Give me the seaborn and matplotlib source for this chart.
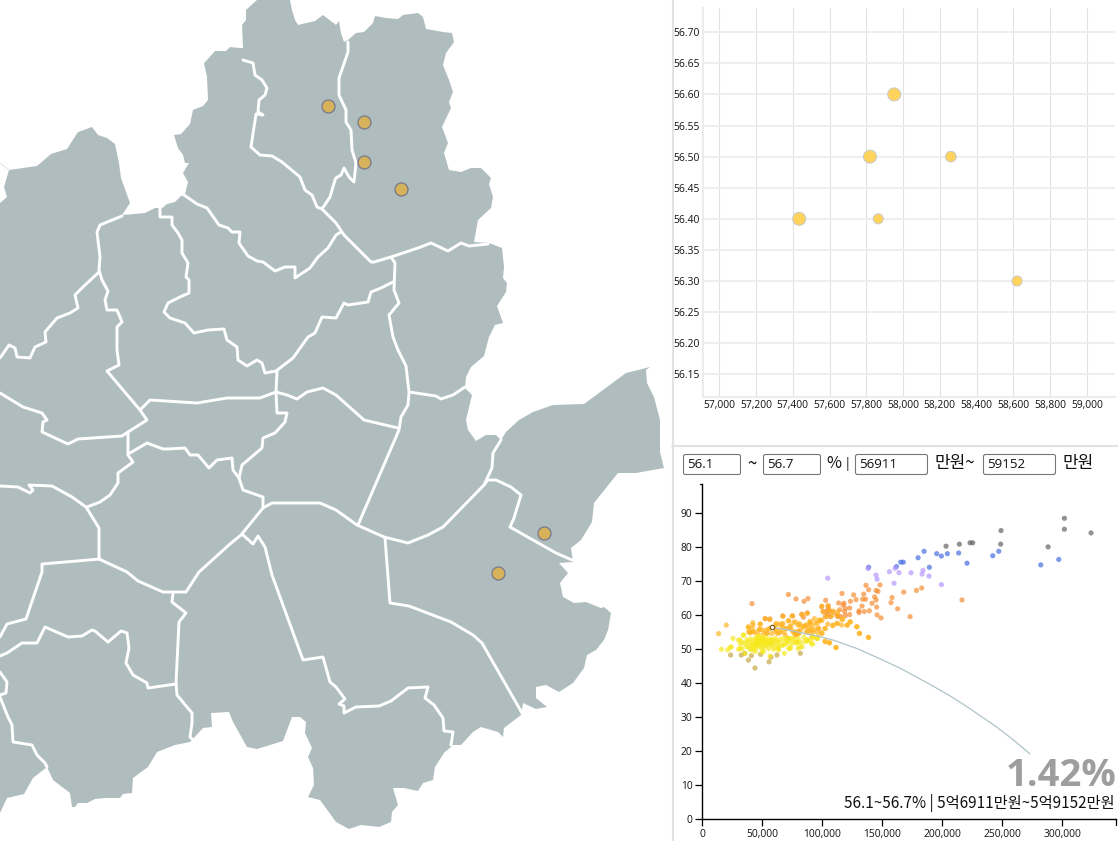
#!/usr/bin/env python3
"""
Region map with a selected price/ratio window, plus two linked scatter panels
"""
import matplotlib
matplotlib.use('Agg')
import matplotlib.pyplot as plt
from matplotlib.patches import FancyBboxPatch
import pandas as pd
import seaborn as sns

# map outline (screen pixels)
land_outline = [
    (257,0),(246,10),(246,20),(242,25),(243,48),(240,48),(230,47),(226,51),(215,51),(207,60),(204,63),(207,77),(208,100),
    (203,106),(193,110),(190,124),(181,134),(174,135),(178,148),(183,155),(185,163),(189,163),(183,173),(188,182),(185,194),
    (180,197),(175,202),(167,204),(160,210),(158,208),(155,208),(145,213),(135,214),(122,215),(130,203),(121,178),(119,163),
    (115,144),(107,138),(98,135),(92,127),(78,132),(67,149),(51,154),(37,166),(9,170),(4,187),(7,197),(0,203),
    (0,813),(7,798),(24,794),(33,778),(47,767),(53,780),(70,793),(72,807),(75,807),(78,803),(87,803),(95,799),(105,798),
    (120,798),(123,794),(132,793),(133,778),(148,767),(157,752),(175,745),(190,742),(203,728),(212,727),(211,713),(229,712),
    (233,722),(247,747),(257,749),(267,746),(283,741),(292,717),(300,717),(306,722),(305,733),(312,748),(308,757),(313,768),
    (314,785),(308,797),(320,800),(336,822),(349,829),(361,825),(379,827),(391,822),(392,812),(398,805),(393,788),(404,788),
    (418,791),(423,783),(433,780),(435,767),(444,753),(453,745),(461,745),(473,732),(481,727),(498,732),(503,737),(504,728),
    (521,715),(523,703),(536,709),(547,707),(536,698),(536,687),(546,685),(559,692),(573,683),(584,668),(587,655),(596,650),
    (604,640),(608,630),(611,613),(604,607),(601,608),(586,602),(574,603),(563,597),(560,583),(568,573),(559,563),(573,562),
    (571,548),(581,540),(592,522),(594,503),(618,473),(636,473),(664,468),(660,452),(660,420),(654,397),(647,383),(646,370),
    (650,367),(626,373),(584,404),(553,405),(533,412),(519,420),(506,432),(501,440),(496,435),(486,435),(476,441),(468,430),
    (466,420),(472,395),(465,388),(466,377),(471,367),(484,356),(489,337),(495,325),(503,323),(497,306),(506,292),(507,283),
    (503,278),(504,267),(502,248),(489,243),(474,242),(478,220),(491,208),(493,197),(489,184),(491,178),(481,168),(471,168),
    (461,172),(449,170),(444,153),(448,143),(442,127),(451,108),(449,102),(453,92),(449,80),(443,65),(446,53),(454,42),
    (452,33),(443,32),(426,29),(423,17),(418,13),(403,15),(398,19),(386,18),(375,16),(373,23),(364,32),(356,33),(348,40),
    (344,42),(341,33),(339,21),(336,25),(323,15),(315,21),(298,25),(295,20),(292,10),(290,0),
]

# district borders, same pixel space
borders = [
    [(243,60),(253,63),(255,75),(262,80),(267,88),(265,95),(259,100),(258,112),(263,115),(256,114),(251,147),(260,155),(272,156),
     (282,162),(300,177),(305,190),(312,195),(317,207),(322,209),(336,223),(344,235),(371,262),(374,262),(391,257),(418,248),
     (431,243),(448,251),(461,243),(469,246),(488,244)],
    [(348,42),(348,52),(339,78),(339,95),(346,110),(346,122),(351,130),(352,150),(356,163),(354,182),(349,177),(344,168),(341,175),
     (336,178),(335,180),(330,197),(322,209)],
    [(341,232),(336,235),(328,248),(318,257),(310,268),(295,278),(295,267),(285,267),(275,271),(263,262),(257,261),(248,256),
     (239,243),(240,232),(232,232),(228,228),(219,225),(207,208),(197,204),(184,195)],
    [(160,210),(160,217),(172,217),(172,225),(178,233),(182,240),(182,253),(188,263),(186,277),(189,280),(189,293),(180,297),
     (168,303),(164,312),(170,318),(185,323),(194,333),(208,330),(224,329),(227,340),(237,347),(238,360),(247,366),(257,360),
     (262,363),(265,373),(276,371),(293,358),(308,337),(315,333),(322,317),(336,318),(344,303),(348,305),(368,302),(371,292),
     (381,288),(393,282)],
    [(391,257),(395,263),(394,290),(399,303),(389,315),(393,337),(398,350),(406,366),(409,392),(436,396),(441,399),(453,395),(465,387)],
    [(409,393),(408,405),(401,417),(399,430),(358,525)],
    [(122,216),(100,225),(97,232),(100,257),(99,270),(102,280),(108,291),(105,300),(107,310),(117,310),(122,322),(117,327),
     (117,350),(119,365),(107,371),(140,410),(147,420),(128,432),(122,436),(78,439),(68,444),(42,432),(43,422),(47,420),(42,413),
     (23,407),(0,393)],
    [(99,272),(83,287),(75,295),(78,308),(70,313),(57,318),(45,332),(46,342),(35,347),(30,358),(17,357),(15,348),(9,345),(0,358)],
    [(140,410),(150,400),(197,403),(227,398),(260,398),(276,392),(277,371)],
    [(276,392),(277,413),(287,413),(285,422),(275,433),(263,438),(262,448),(242,465),(239,478)],
    [(276,392),(287,395),(297,399),(307,392),(323,388),(336,395),(364,420),(398,428)],
    [(128,432),(128,455),(133,462),(118,473),(118,483),(110,495),(100,502),(87,507)],
    [(130,453),(147,443),(163,449),(168,449),(185,448),(190,455),(198,455),(209,468),(217,460),(232,458),(233,470),(239,478),
     (243,490),(263,497),(263,507)],
    [(263,508),(241,535),(230,544),(199,572),(186,592),(163,592),(138,581),(127,572),(99,559),(99,528),(86,507),(72,497),(52,486),
     (29,485),(33,490),(30,493),(18,487),(0,486)],
    [(263,508),(272,503),(320,503),(336,510),(357,525),(384,537),(408,543),(428,535),(443,527),(484,485),(488,480),(496,480),
     (511,487),(521,495),(514,518),(510,527),(556,553),(572,560)],
    [(501,440),(493,453),(492,468),(484,485)],
    [(385,538),(390,603),(409,606),(451,622),(473,635),(482,643),(522,713)],
    [(243,535),(253,544),(258,536),(265,547),(272,575),(303,660),(323,657),(330,682),(336,687),(345,699),(339,704),(344,706),
     (344,713),(356,707),(379,706),(391,701),(408,688),(428,687),(425,698),(434,705),(443,718),(444,731),(453,732),(451,745)],
    [(173,593),(172,602),(186,613),(179,622),(176,683),(177,695),(192,713),(192,723),(190,737),(193,740)],
    [(176,684),(148,688),(147,683),(133,675),(126,663),(129,648),(127,633),(121,631),(108,642),(95,631),(92,630),(82,636),(68,637),
     (45,627),(37,643),(22,643),(7,653),(0,656)],
    [(100,559),(42,564),(42,572),(26,619),(7,624),(0,637)],
    [(0,697),(8,717),(12,725),(13,742),(32,745),(37,755),(45,763),(47,767)],
    [(0,672),(7,682),(6,693),(0,695)],
]

# selected apartments on the map
map_sites_x = [328, 364.3, 364.3, 400.7, 544.3, 498]
map_sites_y = [106, 121.7, 161.7, 189.3, 532.7, 572.7]

# zoomed-in panel: price (10k won) vs ratio (%)
top_price = [57952, 57820, 58260, 57435, 57865, 58620]
top_ratio = [56.6, 56.5, 56.5, 56.4, 56.4, 56.3]
top_units = [3, 3, 2, 3, 1, 1]
top_xticks = [57000, 57200, 57400, 57600, 57800, 58000, 58200, 58400, 58600, 58800, 59000]
top_yticks = [56.15, 56.20, 56.25, 56.30, 56.35, 56.40, 56.45, 56.50, 56.55, 56.60, 56.65, 56.70]

# overview panel, x in thousands of the price unit, y in %
gray_x = [203.1, 214.2, 223.1, 225.3, 248.9, 248.6, 288.1, 301.7, 301.7, 323.9]
gray_y = [80.3, 80.9, 81.3, 81.3, 84.9, 80.9, 80.1, 88.5, 85.3, 84.2]
blue_x = [138.6, 161.7, 165.3, 167.5, 179.8, 184.8, 189.2, 195.3, 199.2, 204.2, 213.6, 220.6, 242, 247, 282, 297]
blue_y = [74.1, 74.3, 75.6, 75.6, 76.9, 78.8, 74.1, 78.1, 77.4, 78.1, 78.3, 75.3, 77.5, 78.8, 74.8, 76.4]
purple_x = [104.5, 138.1, 144.75, 145.6, 155.9, 160.6, 163.9, 159.75, 173.9, 183.1, 183.9, 188.9, 199.2]
purple_y = [70.9, 73.7, 71.8, 70.6, 72.8, 73.8, 72.5, 69.4, 72.5, 72.1, 73.2, 71.5, 69]
orange_x = [136.4, 138.6, 148.1, 144.8, 146.4, 71.7, 78.1, 84.8, 88.1, 102.8, 116.4, 126.1, 134.5, 136.1, 128.1, 133.6,
            143.6, 144.8, 158.1, 157.25, 167.8, 178.4, 182.8, 216.4, 162.8, 173.1, 141.4, 133.1, 145.3, 130.6, 135, 139.2,
            130.6, 145.6, 148.9, 113.6, 118.1, 117.25, 123.4, 114.5, 119.2, 122.8, 118.6, 122.8, 119.2, 115.3, 112.2, 112.8,
            99.5, 104.75, 105, 100.6, 103.4, 105.9, 108.6, 104.5, 102.5, 106.7, 41.4,
            52.3, 56.4, 67, 75.3, 82.8, 87.5, 84.2]
orange_y = [68.8, 67.5, 68.9, 67.3, 67, 66.1, 64.8, 64.1, 64.9, 64.4, 66.4, 66, 66.2, 64.7, 64.6, 64.7,
            65.4, 64.5, 65.2, 63.7, 66.8, 67.3, 68, 64.5, 61.9, 59.6, 63.5, 62.7, 62.4, 61.3, 61.1, 61.3,
            60.8, 60.1, 59.2, 63.6, 63.5, 63, 64.1, 61.6, 62, 62.1, 61.1, 60.2, 59.9, 59.6, 60.1, 59.6,
            62.5, 62.8, 62.1, 61.1, 61.1, 61.4, 60.9, 60.3, 59.6, 59.6, 63.4,
            59, 58.9, 59.8, 59.8, 60.3, 60.7, 59.4]
gold_x = [13.6, 20, 52.5, 56.1, 67.25, 74.75, 83.1, 87.25, 38.4, 42.25, 48.4, 38.6, 40, 43.6, 47.5, 52.5, 53.9, 55.9, 59.5,
          64.2, 67.25, 72, 76.1, 80.9, 85.9, 90, 93.4, 97, 99.75, 102.5, 104.5, 108.9, 112.8, 116.4, 120.6, 123.4, 128.9,
          131.1, 138.6, 111.4, 102.5, 106.1, 99.75, 97, 92.8, 88.6, 84.5, 79.75, 78.1, 80.3, 74.75, 70.6, 66.4, 61.4, 58,
          63.1, 69.2, 72, 77.5, 81.7, 91.4, 95.6, 87.8, 49.2, 46.4, 51.1, 41.4, 61.4, 73.4, 79, 80.5, 76, 78.5, 68, 65, 86.5,
          38.4, 39.8, 42.5, 42, 48.1, 47.5, 53.7, 55, 61.4, 66.2, 61.4, 64.8, 69, 71.7, 73.1, 77.3, 77.3, 80, 81.4, 84.2, 87,
          89.8, 91.2, 93.9, 95.9, 89.8, 96.7, 99.5, 105, 100.8, 105.8, 109.2, 103.6, 107.8, 112.8, 112.8, 117, 98.1, 93.9,
          89.7, 91.1, 96.7, 99.5, 98.6, 102.2, 108.6, 112, 116.1, 123.1, 120.8, 128.6, 130.8, 138.3, 102.2, 105.8, 111.4]
gold_y = [54.6, 57.1, 59, 58.7, 59.7, 59.8, 60.2, 60.5, 56.6, 57.1, 57.4, 55.1, 54.8, 55.1, 55.8, 55.6, 54.6, 56.1, 56.4,
          57.4, 57.6, 58.3, 57.8, 57.6, 57.1, 57.4, 59, 58.5, 58.5, 56.1, 57.4, 57.1, 57.6, 58.7, 57.1, 58, 56.6,
          54.6, 53.5, 50.5, 52.2, 51.9, 54.6, 56.1, 55.1, 56.1, 56.6, 57.1, 55.1, 54.6, 55.6, 56.1, 56.6, 55.6, 54.6,
          54.6, 54.1, 53.2, 54.1, 55.6, 53.7, 53.2, 55.4, 55.8, 54.4, 54.6, 56.1, 57.1, 56.8, 54.8, 55.3, 54.9, 54.2, 55, 55.5, 55,
          56.4, 55.1, 55.1, 57.8, 57.4, 55.8, 54.7, 55.8, 57.6, 57.3, 55.1, 54.9, 56.1, 58.4, 56.6, 58.1, 54.9, 54.7, 57.1, 56.6, 57.1,
          55.1, 56.6, 55.8, 57.6, 58.1, 54.7, 62.7, 62.7, 61, 61.3, 61.2, 59.6, 59.8, 60, 61, 58.9, 58.4, 57.6,
          58.1, 55.6, 56.1, 54.9, 58.6, 56.1, 56.9, 57.6, 57.1, 58.1, 57.1, 56.6, 54.7, 53.5, 52.4, 51.9, 50.5]
yellow_x = [15.9, 21.1, 25.6, 24.2, 30.3, 31.7, 34.5, 37.25, 30.3, 33.1, 41.4, 44.2, 45.6, 47.5, 49.75, 46.4, 50.3, 52.5, 55.3,
            58, 60.9, 63.6, 67.8, 70.6, 74.75, 78.9, 84.5, 87.25, 91.4, 95.6, 59.5, 63.6, 68.4, 73.4, 79.75, 83.1, 90.9,
            49.75, 44.2, 63.6, 55.3, 38.6, 42.8, 44.75, 47.5, 52.5, 58, 62.25, 70.6, 74.75, 78.1, 49.2, 41.4, 37.25, 48.4,
            45.6, 51.1, 48.4, 46.4, 44.2, 49.75, 53.9, 66.4, 72, 46, 47, 48, 49, 50, 52, 54, 56, 57, 59, 61, 65, 69, 72, 76,
            80, 82, 86, 89, 43, 45, 47, 51, 53, 55, 39, 36, 34, 40, 42,
            23.1, 31.4, 34.2, 35.6, 31.4, 39.8, 42.5, 45.3, 46.7, 49.5, 50.9, 53.7, 57.8, 60.6, 63.4, 67.5, 71.7, 73.1, 78.7,
            81.4, 87, 92.5, 92, 95.9, 56.4]
yellow_y = [50, 49.8, 53.2, 50.7, 52.7, 51.7, 54.1, 52.7, 50, 50.2, 49.8, 50.2, 52.2, 52.9, 52.2, 51.2, 51.7, 52.7, 52.2,
            52.7, 53.2, 52.2, 53.2, 52.7, 53.2, 52.2, 53.5, 52.7, 53.2, 53.2, 50, 50.7, 48.8, 50.5, 50.2, 50.7, 51.7,
            49.3, 49.3, 49.8, 50.2, 52.2, 52.7, 53.5, 53.9, 53.5, 51.2, 51.7, 51.7, 51.7, 51.9, 50.5, 51.7, 50.7, 52.7,
            52.9, 52.9, 51.9, 52.2, 51.7, 53.2, 51.7, 51.2, 50.2, 52, 51.5, 53, 52.5, 53, 52, 52.5, 53, 51.5, 52, 52.5, 52.8, 52, 52.5, 52.8,
            53, 52, 52.2, 52.5, 51, 51.3, 50.8, 50.5, 51, 51.5, 51, 51.5, 52, 53, 51.2,
            50.5, 52.7, 54.2, 48.8, 50.2, 50, 50.2, 52.2, 53.7, 52.7, 49.3, 51.7, 52.7, 50.7, 50.2, 51.2, 53.2, 50.2, 51.9,
            50.7, 52.7, 53.7, 51.5, 53.2, 48]
tan_x = [23.6, 32.5, 35.3, 40.9, 38.4, 43.9, 48.6, 55.6, 57.25, 62.25, 81.7]
tan_y = [48.3, 48.3, 48.8, 48.1, 46.8, 44.5, 48.5, 46.3, 47.7, 48.3, 48.8]
picked_x = [58.1]
picked_y = [56.4]
curve_x = [58, 66, 75, 84, 97, 109, 129, 148, 165, 176, 190, 204, 218, 231, 245, 259, 273]
curve_y = [56.4, 56.0, 55.4, 54.7, 53.8, 52.7, 50.2, 47.2, 44.4, 42.3, 39.6, 36.8, 33.7, 30.6, 27.2, 23.4, 19.2]
bottom_xticks = [0, 50, 100, 150, 200, 250, 300]
bottom_yticks = [0, 10, 20, 30, 40, 50, 60, 70, 80, 90]

filter_ratio_low = '56.1'
filter_ratio_high = '56.7'
filter_price_low = '56911'
filter_price_high = '59152'
share_label = '1.42%'
range_label = '56.1~56.7% | 5억6911만원~5억9152만원'

group_colors = {
    'gray': '#5f5f5f', 'blue': '#4169e1', 'purple': '#b594ff', 'orange': '#f58a2e',
    'gold': '#ffb31f', 'tan': '#c4a43c', 'yellow': '#f7e81e',
}
W, H = 1118, 841
UI_FONT = ['Noto Sans CJK KR', 'DejaVu Sans']

sns.set_theme(style='white')
plt.rcParams['font.family'] = ['Open Sans', 'Noto Sans CJK KR', 'DejaVu Sans']


def add_axes_px(fig, left, top, right, bottom):
    return fig.add_axes([left / W, 1 - bottom / H, (right - left) / W, (bottom - top) / H])


def text_px(fig, x, y, s, **kw):
    kw.setdefault('va', 'center')
    kw.setdefault('family', UI_FONT)
    fig.text(x / W, 1 - y / H, s, **kw)


def draw_map(ax):
    ax.set_xlim(0, W)
    ax.set_ylim(H, 0)
    ax.axis('off')
    ax.fill(*zip(*land_outline), color='#b0bdbe', lw=0, zorder=1)
    for line in borders:
        ax.plot(*zip(*line), color='white', lw=2.1, solid_joinstyle='round', zorder=2)
    ax.plot([0, 9], [163, 170], color='#e3e6e6', lw=0.7, zorder=2)
    sites = pd.DataFrame({'x': map_sites_x, 'y': map_sites_y})
    sns.scatterplot(data=sites, x='x', y='y', ax=ax, s=88, color='#d6b35a', edgecolor='#77778a',
                    linewidth=0.9, zorder=3, legend=False)
    ax.set_xlabel('')
    ax.set_ylabel('')
    # panel dividers
    ax.plot([672.5, 672.5], [0, H], color='#e2e2e2', lw=1.5, zorder=4)
    ax.plot([672, W], [445.5, 445.5], color='#e2e2e2', lw=1.5, zorder=4)


def draw_top(fig):
    ax = add_axes_px(fig, 702.7, 8, 1115, 397.3)
    df = pd.DataFrame({'price': top_price, 'ratio': top_ratio, 'units': top_units})
    sns.scatterplot(data=df, x='price', y='ratio', size='units', sizes={1: 52, 2: 58, 3: 88}, ax=ax,
                    color='#ffd35c', edgecolor='#c9c9c9', linewidth=0.7, legend=False, zorder=3)
    ax.set_xlim(56910, 59153)
    ax.set_ylim(56.113, 56.739)
    ax.set_xticks(top_xticks)
    ax.set_xticklabels([f'{v:,}' for v in top_xticks])
    ax.set_yticks(top_yticks)
    ax.set_yticklabels([f'{v:.2f}' for v in top_yticks])
    ax.tick_params(length=0, labelsize=7.4, colors='#111111', pad=2)
    ax.grid(axis='x', color='#e2e2e2', lw=0.8)
    ax.grid(axis='y', color='#eeeeee', lw=1.4)
    ax.set_axisbelow(True)
    ax.set_xlabel('')
    ax.set_ylabel('')
    sns.despine(ax=ax, top=True, right=True)
    for side in ['left', 'bottom']:
        ax.spines[side].set_color('#ececec')
        ax.spines[side].set_linewidth(1.5)


def draw_filters(fig):
    ax = fig.axes[0]
    boxes = [(683.5, 740.5, filter_ratio_low), (763.5, 820.5, filter_ratio_high),
             (855.5, 927.5, filter_price_low), (983.5, 1055.5, filter_price_high)]
    for left, right, value in boxes:
        ax.add_patch(FancyBboxPatch((left + 1, 455.5), right - left - 2, 18, boxstyle='round,pad=1,rounding_size=2',
                                    fc='white', ec='#767676', lw=0.8, zorder=5))
        text_px(fig, left + 3.5, 464.5, value, fontsize=9.6, color='#111111', family=['Open Sans'])
    size = 12.2
    text_px(fig, 752, 464, '~', fontsize=size, ha='center', color='#111111')
    text_px(fig, 833.5, 463.5, '%', fontsize=size - 0.5, ha='center', color='#111111')
    text_px(fig, 847.5, 464, '|', fontsize=size - 3, ha='center', color='#111111')
    text_px(fig, 934.5, 463, '만원~', fontsize=size, color='#111111')
    text_px(fig, 1062.5, 463, '만원', fontsize=size, color='#111111')


def draw_bottom(fig):
    ax = add_axes_px(fig, 702.3, 484.3, 1116, 819.3)
    ax.patch.set_alpha(0)
    frames = []
    for name, xs, ys in [('gray', gray_x, gray_y), ('blue', blue_x, blue_y), ('purple', purple_x, purple_y),
                         ('orange', orange_x, orange_y), ('gold', gold_x, gold_y), ('tan', tan_x, tan_y),
                         ('yellow', yellow_x, yellow_y)]:
        frames.append(pd.DataFrame({'price': xs, 'ratio': ys, 'group': name}))
    points = pd.concat(frames, ignore_index=True)
    sns.scatterplot(data=points, x='price', y='ratio', hue='group', palette=group_colors, s=14, linewidth=0,
                    alpha=0.68, ax=ax, legend=False, clip_on=False, zorder=3)
    sns.lineplot(x=curve_x, y=curve_y, sort=False, color='#aec4c8', lw=0.9, ax=ax, zorder=4, errorbar=None)
    sns.scatterplot(x=picked_x, y=picked_y, s=10, color='white', edgecolor='#8a5a10', linewidth=0.9, ax=ax,
                    legend=False, zorder=5)
    ax.set_xlim(0, 344.7)
    ax.set_ylim(0, 98.5)
    ax.set_xticks(bottom_xticks)
    ax.set_xticklabels([f'{v * 1000:,}' for v in bottom_xticks])
    ax.set_yticks(bottom_yticks)
    ax.set_yticklabels([str(v) for v in bottom_yticks])
    ax.tick_params(axis='both', length=5, width=0.9, color='black', labelsize=7.4, labelcolor='#111111', pad=2,
                   bottom=True, left=True)
    ax.set_xlabel('')
    ax.set_ylabel('')
    sns.despine(ax=ax, top=True, right=True)
    for side in ['left', 'bottom']:
        ax.spines[side].set_color('black')
        ax.spines[side].set_linewidth(1)
    ax.plot([344.7, 344.7], [0, -1.6], color='black', lw=0.9, clip_on=False)
    ax.plot([0, -2.1], [98.5, 98.5], color='black', lw=0.9, clip_on=False)
    ax.set_xlim(0, 344.7)
    ax.set_ylim(0, 98.5)
    text_px(fig, 1006, 775.5, share_label, fontsize=27.5, fontweight='bold', color='#9e9e9e', family=['Open Sans'])
    text_px(fig, 844, 803.5, range_label, fontsize=11.0, color='#111111')


def main():
    fig = plt.figure(figsize=(W / 100, H / 100), dpi=100, facecolor='white')
    ax = fig.add_axes([0, 0, 1, 1])
    draw_map(ax)
    draw_top(fig)
    draw_filters(fig)
    draw_bottom(fig)
    fig.savefig('out.png', dpi=100)


if __name__ == '__main__':
    main()
